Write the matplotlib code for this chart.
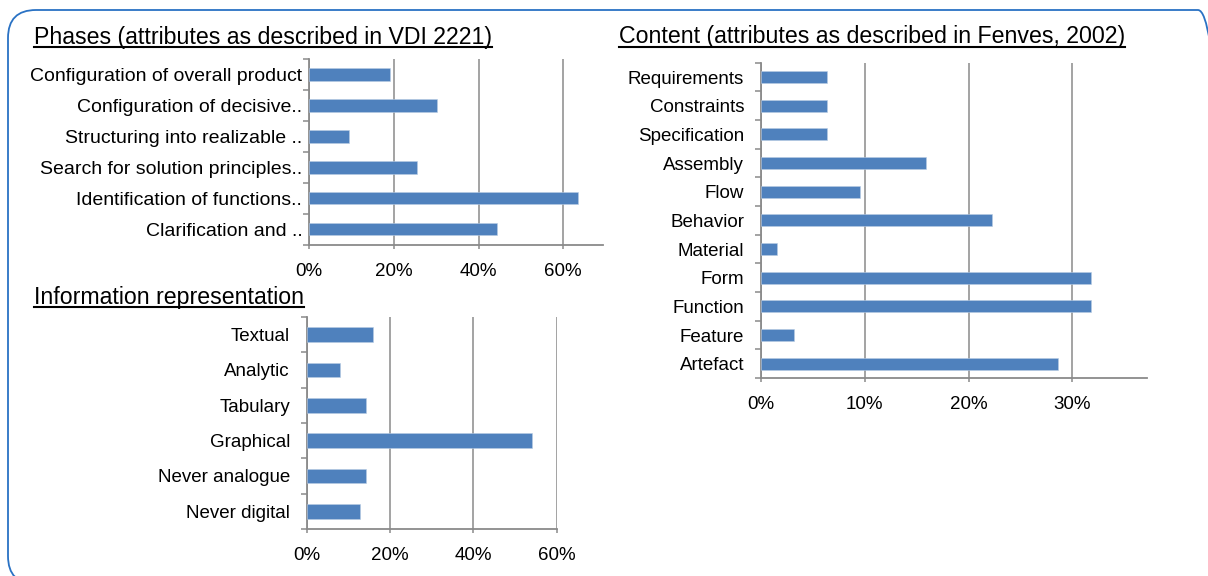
import matplotlib
matplotlib.use('Agg')
import matplotlib.pyplot as plt
from matplotlib.patches import FancyBboxPatch
from matplotlib.lines import Line2D
from matplotlib.ticker import FuncFormatter, MultipleLocator
import numpy as np

plt.rcParams['font.family'] = ['Liberation Sans', 'DejaVu Sans']

# Daten (Anteile in %)
phases_labels = ['Configuration of overall product', 'Configuration of decisive..',
                 'Structuring into realizable ..', 'Search for solution principles..',
                 'Identification of functions..', 'Clarification and ..']
phases_values = [19.0, 30.2, 9.5, 25.4, 63.5, 44.4]

info_labels = ['Textual', 'Analytic', 'Tabulary', 'Graphical', 'Never analogue', 'Never digital']
info_values = [15.9, 7.9, 14.3, 54.0, 14.3, 12.7]

content_labels = ['Requirements', 'Constraints', 'Specification', 'Assembly', 'Flow',
                  'Behavior', 'Material', 'Form', 'Function', 'Feature', 'Artefact']
content_values = [6.35, 6.35, 6.35, 15.87, 9.52, 22.22, 1.59, 31.75, 31.75, 3.17, 28.57]

W, H = 1208, 576
BAR = '#4f81bd'
GRID = '#8a8a8a'

fig = plt.figure(figsize=(W / 100, H / 100), dpi=100)

# Rahmen (Pixelkoordinaten, y nach oben)
bg = fig.add_axes([0, 0, 1, 1], zorder=-5)
bg.set_xlim(0, W)
bg.set_ylim(0, H)
bg.axis('off')
bg.add_patch(FancyBboxPatch((8, H - 584), 1218, 574, boxstyle='round,pad=0,rounding_size=28',
                            fill=False, ec='#2a72c4', lw=1.3))


def px_rect(x0, y0, x1, y1):
    return [x0 / W, 1 - y1 / H, (x1 - x0) / W, (y1 - y0) / H]


def bar_chart(rect, labels, values, xmax, step, ypad, fs=13.5):
    ax = fig.add_axes(rect)
    n = len(labels)
    y = np.arange(n)
    ax.barh(y, values, height=0.41, color=BAR, edgecolor='#b9cce4', linewidth=0.4, zorder=3)
    ax.set_ylim(n - 0.5, -0.5)
    ax.set_xlim(0, xmax)
    ax.set_yticks(y)
    ax.set_yticklabels(labels)
    ax.set_yticks(np.arange(n + 1) - 0.5, minor=True)
    ax.xaxis.set_major_locator(MultipleLocator(step))
    ax.xaxis.set_major_formatter(FuncFormatter(lambda v, p: f'{v:.0f}%'))
    ax.tick_params(axis='y', which='major', length=0, pad=ypad, labelsize=fs)
    ax.tick_params(axis='y', which='minor', length=4, width=1.1, color=GRID, direction='out')
    ax.tick_params(axis='x', which='major', length=3, width=1.1, color=GRID, pad=10, labelsize=13.5)
    for s in ['top', 'right']:
        ax.spines[s].set_visible(False)
    for s in ['left', 'bottom']:
        ax.spines[s].set_color(GRID)
        ax.spines[s].set_linewidth(1.3)
    ax.grid(axis='x', color=GRID, linewidth=1.1, zorder=0)
    ax.set_axisbelow(True)
    return ax


bar_chart(px_rect(309.3, 59, 603.3, 244.5), phases_labels, phases_values, 69.5, 20, 5, fs=14)
bar_chart(px_rect(306.7, 317, 556.7, 529), info_labels, info_values, 60, 20, 12)
bar_chart(px_rect(760.7, 62.7, 1147.3, 378), content_labels, content_values, 37.2, 10, 12)

# Ueberschriften mit Unterstreichung
titles = [
    ('Phases (attributes as described in VDI 2221)', 34, 44),
    ('Information representation', 34, 304),
    ('Content (attributes as described in Fenves, 2002)', 619, 43.5),
]
texts = []
for s, x, yb in titles:
    t = fig.text(x / W, 1 - yb / H, s, fontsize=16.7, va='baseline', ha='left')
    texts.append((t, yb))

fig.canvas.draw()
r = fig.canvas.get_renderer()
for t, yb in texts:
    bb = t.get_window_extent(r)
    yl = 1 - (yb + 3) / H
    fig.add_artist(Line2D([bb.x0 / W, bb.x1 / W], [yl, yl], color='black', lw=1.5))

fig.savefig('out.png', dpi=100)
